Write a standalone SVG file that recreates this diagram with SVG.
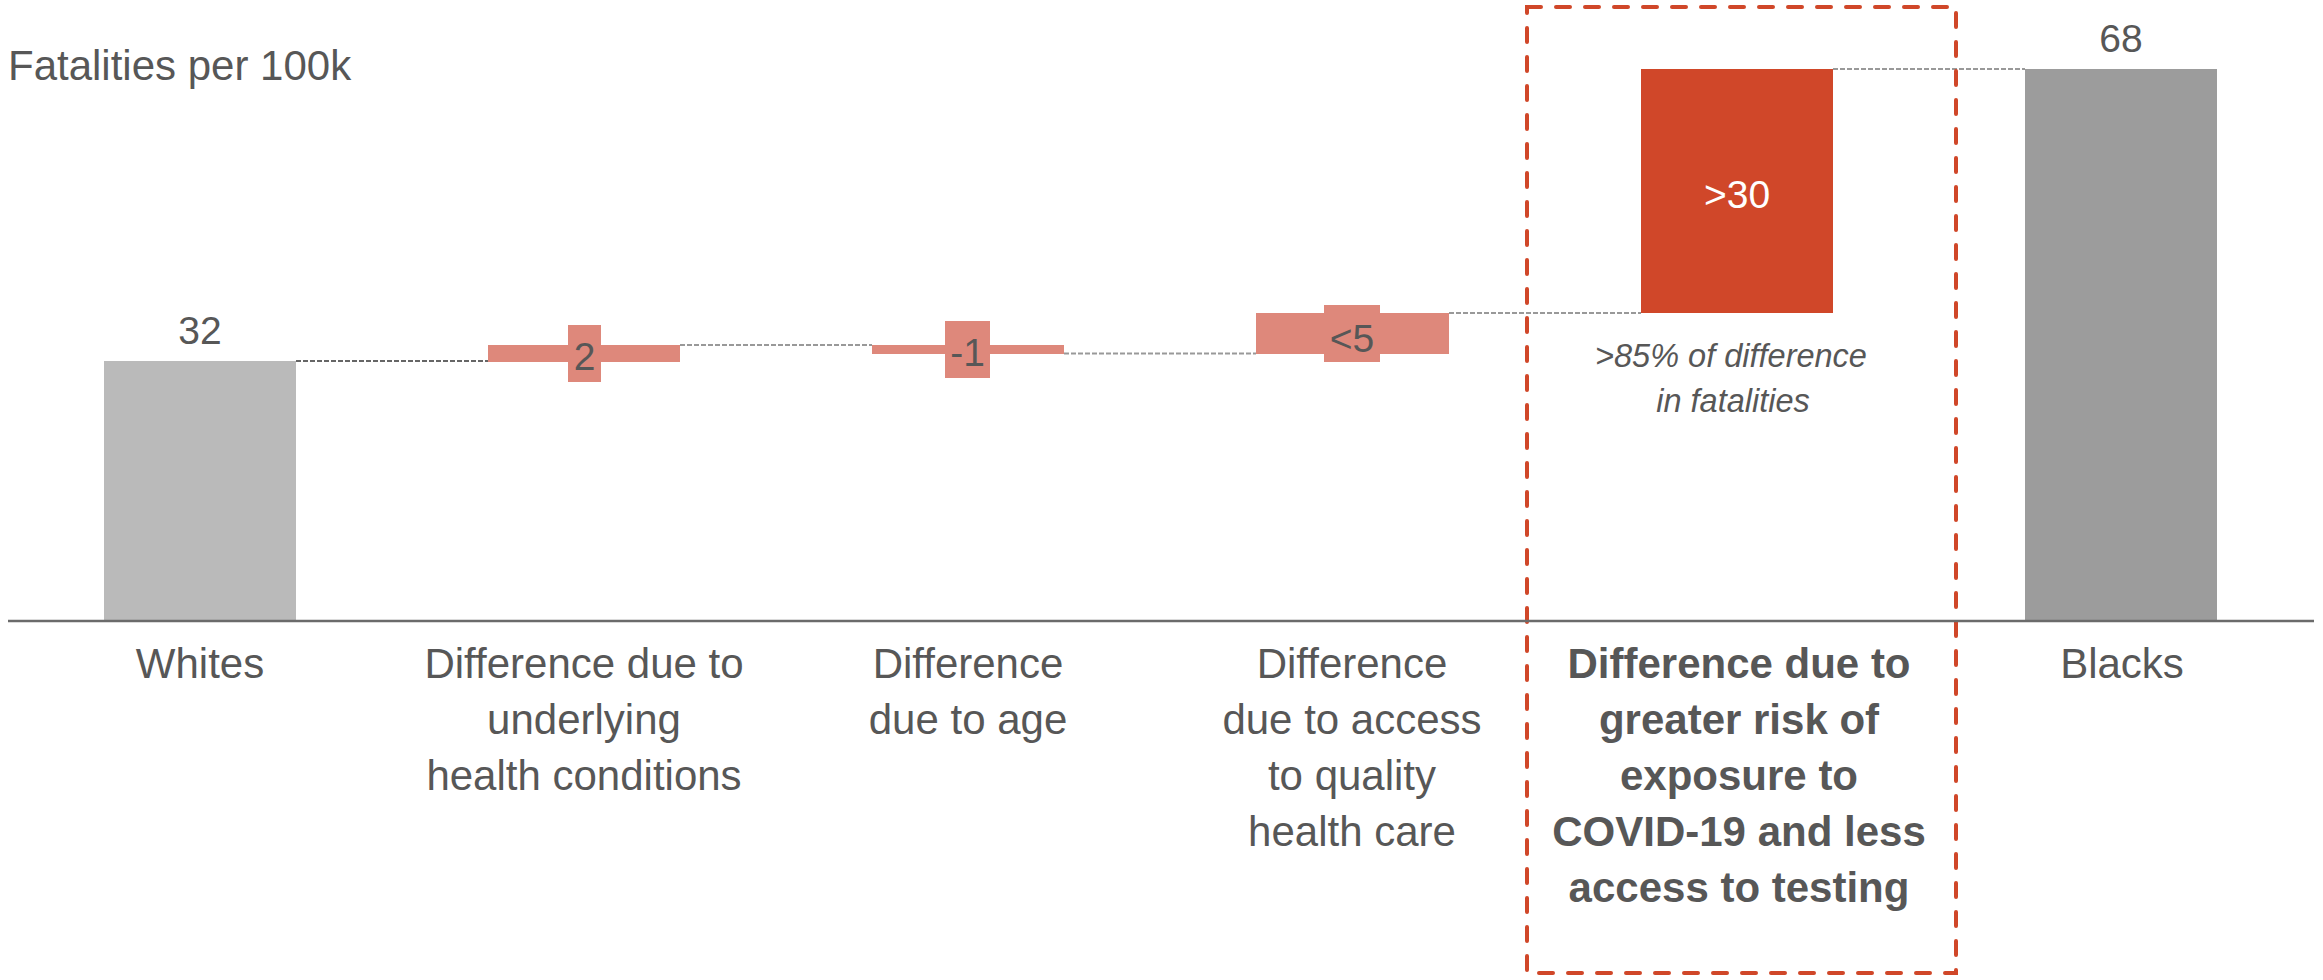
<svg xmlns="http://www.w3.org/2000/svg" width="2323" height="980" viewBox="0 0 2323 980">
<style>
text{font-family:"Liberation Sans",Arial,sans-serif;fill:#575757}
.lbl{font-size:42px;text-anchor:middle}
.bold{font-weight:bold}
.val{font-size:39px;text-anchor:middle}
.it{font-size:32.5px;font-style:italic;text-anchor:middle}
.sal{fill:#DE887B}
.conn{stroke:#999;stroke-width:2;stroke-dasharray:5 2;fill:none}
</style>
<rect width="2323" height="980" fill="#fff"/>
<text x="8" y="80" font-size="42">Fatalities per 100k</text>
<g id="connectors">
<line class="conn" x1="296" y1="361" x2="488" y2="361" style="stroke:#666"/>
<line class="conn" x1="680" y1="345" x2="872" y2="345"/>
<line class="conn" x1="1064" y1="353.5" x2="1256" y2="353.5"/>
<line class="conn" x1="1449" y1="313" x2="1641" y2="313"/>
<line class="conn" x1="1833" y1="69" x2="2025" y2="69"/>
</g>
<g id="whites">
<rect x="104" y="361" width="192" height="260" fill="#BABABA"/>
<text class="val" x="200" y="344">32</text>
<text class="lbl" x="200" y="678">Whites</text>
</g>
<g id="underlying">
<rect class="sal" x="488" y="345" width="192" height="17"/>
<rect class="sal" x="568" y="325" width="33" height="57"/>
<text class="val" x="584.5" y="370">2</text>
<text class="lbl" x="584" y="678">Difference due to</text>
<text class="lbl" x="584" y="734">underlying</text>
<text class="lbl" x="584" y="790">health conditions</text>
</g>
<g id="age">
<rect class="sal" x="872" y="345" width="192" height="9"/>
<rect class="sal" x="945" y="321" width="45" height="57"/>
<text class="val" x="967.5" y="366">-1</text>
<text class="lbl" x="968" y="678">Difference</text>
<text class="lbl" x="968" y="734">due to age</text>
</g>
<g id="healthcare">
<rect class="sal" x="1256" y="313" width="193" height="41"/>
<rect class="sal" x="1324" y="305" width="56" height="57"/>
<text class="val" x="1352" y="352">&lt;5</text>
<text class="lbl" x="1352" y="678">Difference</text>
<text class="lbl" x="1352" y="734">due to access</text>
<text class="lbl" x="1352" y="790">to quality</text>
<text class="lbl" x="1352" y="846">health care</text>
</g>
<g id="exposure">
<rect x="1641" y="69" width="192" height="244" fill="#D04729"/>
<text class="val" x="1737" y="208" style="fill:#fff">&gt;30</text>
<text class="it" x="1731" y="367">&gt;85% of difference</text>
<text class="it" x="1733" y="412">in fatalities</text>
<text class="lbl bold" x="1739" y="678">Difference due to</text>
<text class="lbl bold" x="1739" y="734">greater risk of</text>
<text class="lbl bold" x="1739" y="790">exposure to</text>
<text class="lbl bold" x="1739" y="846">COVID-19 and less</text>
<text class="lbl bold" x="1739" y="902">access to testing</text>
<rect x="1527" y="7" width="429" height="966" fill="none" stroke="#D04729" stroke-width="4" stroke-dasharray="14 15" stroke-linecap="round"/>
</g>
<g id="blacks">
<rect x="2025" y="69" width="192" height="552" fill="#9C9C9C"/>
<text class="val" x="2121" y="52">68</text>
<text class="lbl" x="2122" y="678">Blacks</text>
</g>
<line id="axis" x1="8" y1="621" x2="2314" y2="621" stroke="#6b6b6b" stroke-width="2.5"/>
</svg>
